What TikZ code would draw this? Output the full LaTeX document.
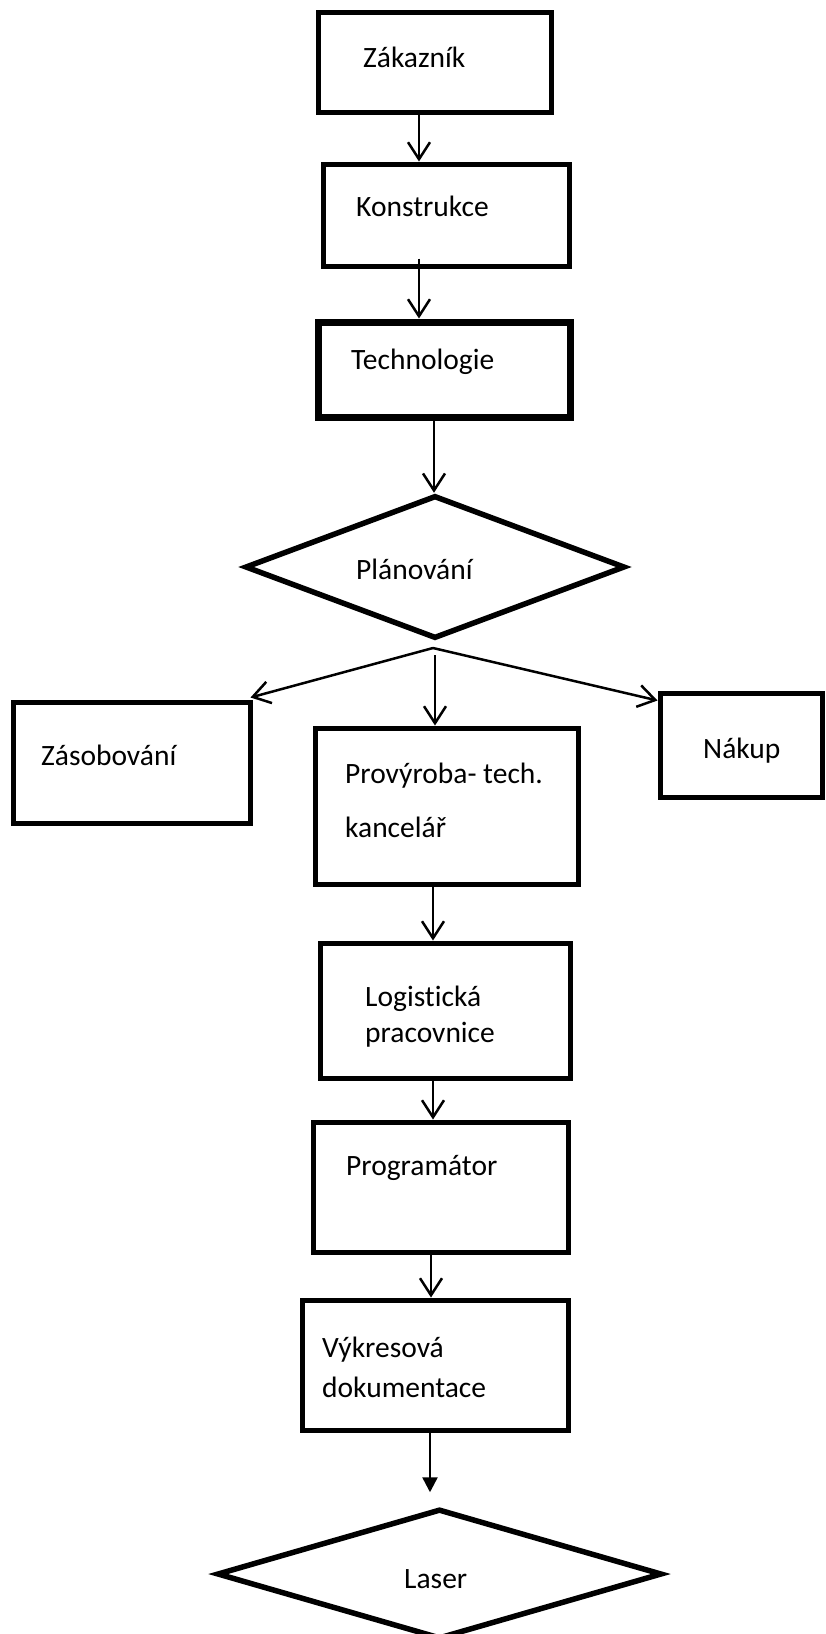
\documentclass[tikz,border=0pt]{standalone}
\usepackage{fontspec}
\setmainfont[Ligatures=NoCommon]{Carlito}
\usetikzlibrary{arrows.meta,shapes.geometric}
\begin{document}
\begin{tikzpicture}[x=1pt,y=-1pt,
  box/.style={draw, rectangle, line width=5pt, inner sep=0pt},
  dia/.style={draw, diamond, line width=5.5pt, inner sep=0pt},
  lbl/.style={anchor=base west, inner sep=0pt, font=\fontsize{29.5}{35}\selectfont},
  arr/.style={line width=2.5pt, -{Straight Barb[length=17pt,width=22pt]}},
  farr/.style={line width=2.5pt, -{Triangle[length=15pt,width=15pt]}}]
\useasboundingbox (0,0) rectangle (826,1634);
% boxes
\node[box, minimum width=233pt, minimum height=100pt] (zak) at (434.5,62) {};
\node[box, minimum width=246pt, minimum height=102pt] (kon) at (446,215) {};
\node[box, line width=7pt, minimum width=252pt, minimum height=95pt] (tech) at (444,369.5) {};
\node[dia, minimum width=380pt, minimum height=143pt] (plan) at (435,567) {};
\node[box, minimum width=237pt, minimum height=121pt] (zas) at (131.5,762.5) {};
\node[box, minimum width=162pt, minimum height=104pt] (nak) at (741,745) {};
\node[box, minimum width=263pt, minimum height=156pt] (prov) at (446.5,806) {};
\node[box, minimum width=250pt, minimum height=135pt] (logi) at (445,1010.5) {};
\node[box, minimum width=255pt, minimum height=130pt] (prog) at (440.5,1187) {};
\node[box, minimum width=266pt, minimum height=130pt] (vyk) at (435,1365) {};
\node[dia, minimum width=445pt, minimum height=130pt] (laser) at (439.5,1574) {};
% texts
\node[lbl] (tzak) at (363,67) {Zákazník};
\node[lbl] (tkon) at (356,216) {Konstrukce};
\node[lbl] (ttech) at (351,369) {Technologie};
\node[lbl] (tplan) at (356,579) {Plánování};
\node[lbl] (tzas) at (41,765) {Zásobování};
\node[lbl] (tnak) at (703,758) {Nákup};
\node[lbl] (tprov1) at (345,783) {Provýroba- tech.};
\node[lbl] (tprov2) at (345,837) {kancelář};
\node[lbl] (tlogi1) at (365,1006) {Logistická};
\node[lbl] (tlogi2) at (365,1042) {pracovnice};
\node[lbl] (tprog) at (346,1175) {Programátor};
\node[lbl] (tvyk1) at (322,1357) {Výkresová};
\node[lbl] (tvyk2) at (322,1397) {dokumentace};
\node[lbl] (tlaser) at (404,1588) {Laser};
% connectors
\coordinate (br) at (433,648);
\draw[arr] ([xshift=-15.5pt]zak.south) -- ([xshift=-15.5pt]zak.south |- kon.north);
\draw[arr] ([xshift=-27pt,yshift=10pt]kon.south) -- ([xshift=-27pt]kon.south |- tech.north);
\draw[arr] ([xshift=-10pt]tech.south) -- ([xshift=-10pt]tech.south |- plan.north);
\draw[arr] (br) -- ([xshift=-2pt,yshift=2pt]zas.north east);
\draw[arr] (br) -- ([yshift=-10pt]nak.north west);
\draw[arr] ([xshift=2pt,yshift=-7pt]br) -- ([xshift=2pt]br |- prov.north);
\draw[arr] ([xshift=-13.5pt]prov.south) -- ([xshift=-13.5pt]prov.south |- logi.north);
\draw[arr] ([xshift=-12pt]logi.south) -- ([xshift=-12pt]logi.south |- prog.north);
\draw[arr] ([xshift=-9.5pt]prog.south) -- ([xshift=-9.5pt]prog.south |- vyk.north);
\draw[farr] ([xshift=-5pt]vyk.south) -- ([xshift=-9.5pt,yshift=14pt]laser.north);
\end{tikzpicture}
\end{document}
